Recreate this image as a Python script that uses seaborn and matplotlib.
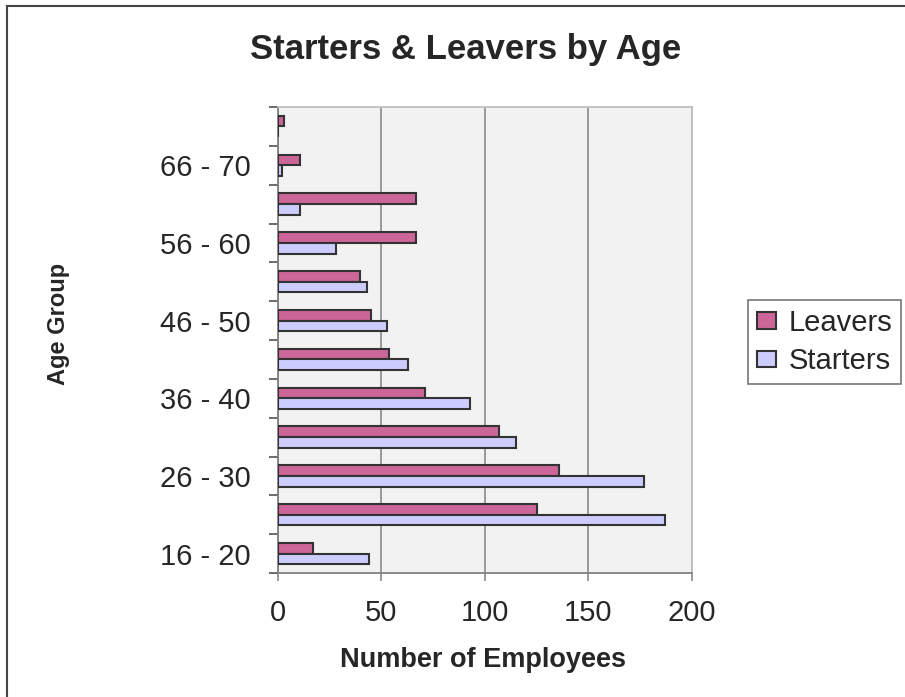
import matplotlib
matplotlib.use("Agg")
import matplotlib.pyplot as plt
import matplotlib.patches as mpatches
from matplotlib.ticker import FixedLocator
import seaborn as sns
import pandas as pd

# Data (bottom to top in the chart)
age_groups = ["16 - 20", "21 - 25", "26 - 30", "31 - 35", "36 - 40", "41 - 45",
              "46 - 50", "51 - 55", "56 - 60", "61 - 65", "66 - 70", "71 - 75"]
leavers = [17, 125, 136, 107, 71, 54, 45, 40, 67, 67, 11, 3]
starters = [44, 187, 177, 115, 93, 63, 53, 43, 28, 11, 2, 0]
shown_labels = ["16 - 20", "26 - 30", "36 - 40", "46 - 50", "56 - 60", "66 - 70"]
x_ticks = [0, 50, 100, 150, 200]

df = pd.DataFrame({
    "Age": age_groups * 2,
    "Count": leavers + starters,
    "Type": ["Leavers"] * len(age_groups) + ["Starters"] * len(age_groups),
})

sns.set_theme(style="white")
plt.rcParams["font.family"] = ["Liberation Sans", "DejaVu Sans"]
txt = "#262626"

W, H = 905, 697
fig = plt.figure(figsize=(W / 100, H / 100), dpi=100)
fig.patch.set_facecolor("white")
ax = fig.add_axes([277.5 / W, 1 - 573 / H, (692 - 277.5) / W, (573 - 107) / H])
ax.set_facecolor("#f2f2f2")

order = age_groups[::-1]  # top to bottom
sns.barplot(data=df, y="Age", x="Count", hue="Type", order=order,
            hue_order=["Leavers", "Starters"],
            palette={"Leavers": "#cc6699", "Starters": "#ccccff"},
            saturation=1, width=0.55, edgecolor="#333333", linewidth=1.5,
            orient="h", ax=ax, zorder=3)

ax.set_xlim(0, 200)
ax.set_ylim(len(order) - 0.5, -0.5)
ax.set_xticks(x_ticks)
ax.set_xticklabels([str(v) for v in x_ticks], fontsize=21, color=txt)
ax.set_yticks(range(len(order)))
ax.set_yticklabels([a if a in shown_labels else "" for a in order], fontsize=21, color=txt)
ax.yaxis.set_minor_locator(FixedLocator([i - 0.5 for i in range(len(order) + 1)]))
ax.tick_params(axis="y", which="major", length=0, pad=19)
ax.tick_params(axis="y", which="minor", length=6.5, width=1.1, color="#444444", left=True)
ax.tick_params(axis="x", which="major", length=6, width=1.1, color="#808080",
               bottom=True, pad=13)

ax.grid(axis="x", color="#808080", linewidth=1.1, zorder=0)
ax.set_axisbelow(True)
for s in ["left", "bottom"]:
    ax.spines[s].set_color("#808080")
    ax.spines[s].set_linewidth(1.3)
for s in ["top", "right"]:
    ax.spines[s].set_color("#bfbfbf")
    ax.spines[s].set_linewidth(1.3)

ax.set_xlabel("")
ax.set_ylabel("")
fig.text(483 / W, 1 - 660 / H, "Number of Employees", fontsize=19.5, fontweight="bold",
         color=txt, ha="center", va="center")
fig.text(58 / W, 1 - 324 / H, "Age Group", fontsize=17, fontweight="bold",
         color=txt, ha="center", va="center", rotation=90)
fig.text(466 / W, 1 - 50 / H, "Starters & Leavers by Age", fontsize=25,
         fontweight="bold", color=txt, ha="center", va="center")

handles, labels = ax.get_legend_handles_labels()
if ax.get_legend() is not None:
    ax.get_legend().remove()
leg = fig.legend(handles, labels, loc="upper left",
                 bbox_to_anchor=(748 / W, 1 - 300 / H), fontsize=21,
                 frameon=True, fancybox=False, edgecolor="#555555",
                 handlelength=0.65, handleheight=0.5, handletextpad=0.45,
                 borderpad=0.3, labelspacing=0.36, borderaxespad=0)
leg.get_frame().set_linewidth(1.2)
for t in leg.get_texts():
    t.set_color(txt)

# Outer chart border
border = mpatches.Rectangle((7 / W, -0.1), 1.2, (H - 6) / H + 0.1,
                            transform=fig.transFigure, fill=False,
                            edgecolor="#444444", linewidth=1.5, clip_on=False)
fig.patches.append(border)

fig.savefig("out.png", dpi=100)
